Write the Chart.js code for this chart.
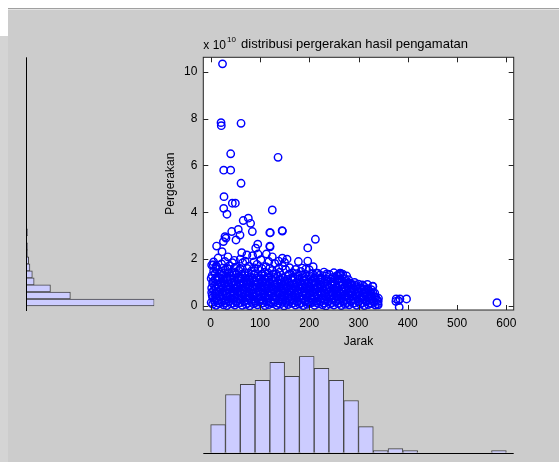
<!DOCTYPE html>
<html>
<head>
<meta charset="utf-8">
<script src="https://cdn.jsdelivr.net/npm/chart.js@4.4.1/dist/chart.umd.min.js"></script>
<style>
    html, body { margin: 0; padding: 0; }
    body { width: 559px; height: 462px; overflow: hidden; background: #ffffff; position: relative; }
    .panel { position: absolute; left: 8px; top: 8px; width: 551px; height: 454px; background: #cccccc; border-top: 1px solid #a0a0a0; box-sizing: border-box; }
    .panel:before { content: ''; position: absolute; left: 0; top: 0; right: 0; height: 1px; background: #e4e4e4; }
    .left-strip { position: absolute; left: 0; top: 36px; width: 8px; height: 426px; background: #d4d4d4; }
    canvas { position: absolute; left: 0; top: 0; }
</style>
</head>
<body>
<div class="panel"></div>
<div class="left-strip"></div>
<canvas id="histY" width="559" height="462"></canvas>
<canvas id="histX" width="559" height="462"></canvas>
<canvas id="scatter" width="559" height="462"></canvas>
<script>
// tick labels
const xTicks = [0, 100, 200, 300, 400, 500, 600];
const yTicks = [0, 2, 4, 6, 8, 10];

// histogram Jarak (bins of 30)
const jarakBins = [15, 45, 75, 105, 135, 165, 195, 225, 255, 285, 315, 345, 375, 405, 435, 465, 495, 525, 555, 585];
const jarakCounts = [14, 29, 34, 36, 45, 38, 48, 42, 36, 26, 13, 1, 2, 1, 0, 0, 0, 0, 0, 1];

// histogram Pergerakan (bins of 0.3, x 10^10)
const gerakBins = [0.15, 0.45, 0.75, 1.05, 1.35, 1.65, 1.95, 2.25, 2.55, 2.85, 3.15];
const gerakCounts = [212, 73, 40, 13, 10, 6, 4, 2, 2, 0, 2];

// [jarak, pergerakan (x 10^10)]
const outlier = [
    [24, 10.34], [21, 7.83], [21.5, 7.7], [61.6, 7.8], [40.6, 6.5], [26.4, 5.8], [40.6, 5.8], [61.6, 5.24],
    [27, 4.67], [26.4, 4.17], [33, 3.92], [43.9, 4.39], [50, 4.39], [136.7, 6.35], [125, 4.1], [145, 3.22],
    [121, 3.13], [66, 3.65], [76.4, 3.75], [81, 3.53], [84.5, 3.18], [42.7, 3.18], [56, 3.27], [59.5, 3.03],
    [51.4, 2.82], [31, 2.9], [25.8, 2.75], [12, 2.56], [23, 2.32], [95.5, 2.64], [91.4, 2.47], [120.5, 2.53],
    [197, 2.48], [212.5, 2.85], [197, 1.92], [145.5, 2.04], [155, 2.0], [113, 2.22], [96, 2.22], [63, 2.28],
    [73.5, 2.18], [5.3, 1.75], [11, 1.7], [29, 2.96], [120, 3.13], [145.5, 3.2], [120, 2.56], [217, 1.4],
    [235.7, 1.37], [262.7, 1.4], [262.7, 1.3], [281.6, 0.97], [329, 0.85], [340.5, 0.33], [340, 0.2],
    [261, 1.37], [283, 0.97], [340, 0.05], [376.5, 0.3], [381, 0.23], [384, 0.3], [397.5, 0.3],
    [382.6, -0.05], [375.8, 0.2], [581, 0.14]
];
const blob = [
    [4, 0.08], [11, 0.03], [18, 0.1], [26, 0.05], [33, 0.02], [41, 0.09], [49, 0.04], [56, 0.11], [64, 0.03], [72, 0.07],
    [79, 0.01], [87, 0.09], [95, 0.05], [103, 0.12], [110, 0.02], [118, 0.06], [126, 0.1], [134, 0.03], [141, 0.08], [149, 0.01],
    [157, 0.06], [165, 0.11], [172, 0.04], [180, 0.08], [188, 0.02], [196, 0.07], [203, 0.12], [211, 0.03], [219, 0.09], [227, 0.05],
    [234, 0.01], [242, 0.08], [250, 0.04], [258, 0.1], [265, 0.02], [273, 0.07], [281, 0.05], [289, 0.11], [296, 0.03], [304, 0.08],
    [312, 0.02], [320, 0.06], [327, 0.1], [334, 0.04],
    [1, 0.15], [8, 0.18], [15, 0.13], [22, 0.17], [30, 0.14], [37, 0.19], [45, 0.12], [52, 0.16], [60, 0.14], [68, 0.18],
    [75, 0.12], [83, 0.16], [91, 0.15], [99, 0.19], [106, 0.13], [114, 0.17], [122, 0.14], [130, 0.18], [137, 0.12], [145, 0.16],
    [153, 0.15], [161, 0.19], [168, 0.13], [176, 0.17], [184, 0.14], [192, 0.18], [199, 0.12], [207, 0.16], [215, 0.15], [223, 0.19],
    [230, 0.13], [238, 0.17], [246, 0.14], [254, 0.18], [261, 0.12], [269, 0.16], [277, 0.15], [285, 0.19], [292, 0.13], [300, 0.17],
    [308, 0.14], [316, 0.18], [323, 0.12], [331, 0.16], [339, 0.1],
    [7, 0.27], [14, 0.22], [22, 0.3], [29, 0.24], [37, 0.19], [45, 0.28], [52, 0.23], [60, 0.31], [68, 0.2], [75, 0.26],
    [83, 0.29], [91, 0.21], [99, 0.27], [106, 0.24], [114, 0.32], [122, 0.19], [130, 0.26], [137, 0.23], [145, 0.3], [153, 0.2],
    [161, 0.28], [168, 0.25], [176, 0.21], [184, 0.3], [192, 0.24], [199, 0.19], [207, 0.27], [215, 0.22], [223, 0.31], [230, 0.25],
    [238, 0.2], [246, 0.28], [254, 0.23], [261, 0.3], [269, 0.21], [277, 0.26], [285, 0.24], [292, 0.29], [300, 0.2], [308, 0.27],
    [316, 0.23], [323, 0.3], [331, 0.22], [338, 0.26],
    [4, 0.36], [11, 0.33], [18, 0.38], [26, 0.35], [33, 0.39], [41, 0.34], [49, 0.37], [56, 0.32], [64, 0.38], [72, 0.36],
    [79, 0.33], [87, 0.39], [95, 0.35], [102, 0.31], [110, 0.37], [118, 0.34], [126, 0.39], [133, 0.36], [141, 0.32], [149, 0.38],
    [157, 0.35], [164, 0.33], [172, 0.39], [180, 0.36], [188, 0.31], [195, 0.37], [203, 0.34], [211, 0.38], [219, 0.35], [226, 0.32],
    [234, 0.39], [242, 0.36], [250, 0.33], [257, 0.37], [265, 0.34], [273, 0.38], [281, 0.35], [288, 0.32], [296, 0.37], [304, 0.34],
    [312, 0.38], [319, 0.35], [327, 0.33], [335, 0.37],
    [3, 0.45], [10, 0.5], [18, 0.42], [25, 0.48], [33, 0.53], [40, 0.44], [48, 0.49], [56, 0.41], [63, 0.52], [71, 0.46],
    [79, 0.43], [86, 0.51], [94, 0.47], [102, 0.4], [109, 0.5], [117, 0.45], [125, 0.53], [132, 0.42], [140, 0.48], [148, 0.44],
    [156, 0.51], [163, 0.4], [171, 0.47], [179, 0.52], [187, 0.43], [194, 0.49], [202, 0.45], [210, 0.41], [217, 0.5], [225, 0.46],
    [233, 0.53], [241, 0.42], [248, 0.48], [256, 0.44], [264, 0.5], [271, 0.41], [279, 0.47], [287, 0.43], [295, 0.5], [302, 0.45],
    [310, 0.41], [318, 0.48], [326, 0.44], [333, 0.4],
    [2, 0.58], [9, 0.55], [17, 0.6], [24, 0.57], [32, 0.54], [40, 0.59], [47, 0.56], [55, 0.61], [63, 0.55], [70, 0.58],
    [78, 0.6], [86, 0.54], [93, 0.57], [101, 0.6], [109, 0.55], [117, 0.58], [124, 0.56], [132, 0.61], [140, 0.54], [147, 0.58],
    [155, 0.56], [163, 0.6], [171, 0.55], [178, 0.57], [186, 0.59], [194, 0.54], [202, 0.58], [209, 0.56], [217, 0.6], [225, 0.55],
    [232, 0.57], [240, 0.59], [248, 0.54], [256, 0.58], [263, 0.56], [271, 0.6], [279, 0.55], [287, 0.57], [294, 0.53], [302, 0.58],
    [310, 0.55], [318, 0.57], [325, 0.53], [333, 0.55],
    [6, 0.66], [13, 0.6], [21, 0.7], [28, 0.63], [36, 0.68], [44, 0.61], [51, 0.72], [59, 0.64], [67, 0.69], [74, 0.62],
    [82, 0.67], [90, 0.73], [97, 0.6], [105, 0.66], [113, 0.7], [121, 0.63], [128, 0.68], [136, 0.61], [144, 0.71], [151, 0.65],
    [159, 0.6], [167, 0.69], [175, 0.64], [182, 0.72], [190, 0.61], [198, 0.67], [206, 0.63], [213, 0.7], [221, 0.6], [229, 0.66],
    [236, 0.71], [244, 0.62], [252, 0.68], [260, 0.64], [268, 0.6], [275, 0.69], [283, 0.63], [291, 0.67], [299, 0.61], [306, 0.66],
    [314, 0.6], [322, 0.64], [329, 0.58],
    [2, 0.77], [10, 0.74], [17, 0.79], [25, 0.76], [33, 0.73], [40, 0.78], [48, 0.75], [56, 0.8], [63, 0.74], [71, 0.77],
    [79, 0.79], [86, 0.73], [94, 0.76], [102, 0.8], [110, 0.75], [117, 0.77], [125, 0.74], [133, 0.79], [141, 0.76], [148, 0.73],
    [156, 0.78], [164, 0.75], [172, 0.8], [179, 0.74], [187, 0.77], [195, 0.75], [203, 0.79], [210, 0.73], [218, 0.76], [226, 0.78],
    [234, 0.74], [241, 0.77], [249, 0.75], [257, 0.79], [265, 0.73], [272, 0.76], [280, 0.74], [288, 0.77], [296, 0.73], [303, 0.75],
    [311, 0.72], [319, 0.74], [326, 0.7],
    [8, 0.87], [16, 0.82], [23, 0.9], [31, 0.84], [39, 0.8], [46, 0.89], [54, 0.85], [62, 0.92], [69, 0.81], [77, 0.88],
    [85, 0.84], [92, 0.9], [100, 0.83], [108, 0.79], [116, 0.88], [123, 0.85], [131, 0.91], [139, 0.8], [147, 0.87], [154, 0.83],
    [162, 0.89], [170, 0.81], [178, 0.86], [185, 0.92], [193, 0.8], [201, 0.85], [209, 0.88], [216, 0.82], [224, 0.9], [232, 0.84],
    [240, 0.79], [247, 0.87], [255, 0.83], [263, 0.89], [271, 0.8], [279, 0.85], [287, 0.91], [295, 0.82], [303, 0.78], [311, 0.84],
    [329, 0.83],
    [4, 0.97], [12, 0.93], [19, 0.98], [27, 0.95], [35, 0.92], [42, 0.97], [50, 0.94], [58, 0.99], [66, 0.93], [73, 0.96],
    [81, 0.98], [89, 0.92], [96, 0.95], [104, 0.99], [112, 0.94], [120, 0.96], [128, 0.93], [135, 0.98], [143, 0.95], [151, 0.92],
    [159, 0.97], [166, 0.94], [174, 0.99], [182, 0.93], [190, 0.96], [198, 0.94], [205, 0.97], [213, 0.92], [221, 0.95], [229, 0.97],
    [237, 0.93], [244, 0.96], [252, 0.94], [260, 0.97], [268, 0.92], [276, 0.95], [284, 0.93], [292, 0.9], [300, 0.93], [308, 0.9],
    [318, 0.92],
    [5, 1.05], [12, 1.1], [20, 1.0], [27, 1.08], [35, 1.12], [43, 1.02], [50, 1.07], [58, 1.14], [66, 1.01], [73, 1.09],
    [81, 1.04], [89, 1.11], [96, 1.0], [104, 1.06], [112, 1.13], [120, 1.03], [127, 1.08], [135, 1.0], [143, 1.1], [151, 1.05],
    [158, 1.02], [166, 1.09], [174, 1.0], [182, 1.04], [190, 1.1], [198, 1.01], [206, 1.07], [214, 1.03], [222, 1.12], [230, 1.0],
    [238, 1.06], [247, 1.02], [256, 1.08], [265, 1.0], [274, 1.05], [283, 0.98], [292, 1.01],
    [1, 1.18], [9, 1.15], [17, 1.2], [24, 1.16], [32, 1.19], [39, 1.14], [47, 1.18], [55, 1.21], [62, 1.16], [70, 1.19],
    [78, 1.14], [85, 1.18], [93, 1.2], [101, 1.15], [109, 1.17], [116, 1.21], [124, 1.15], [132, 1.18], [140, 1.16], [147, 1.2],
    [155, 1.14], [163, 1.17], [171, 1.19], [179, 1.15], [186, 1.18], [194, 1.14], [202, 1.17], [210, 1.19], [218, 1.15], [226, 1.17],
    [236, 1.14], [244, 1.16], [253, 1.18], [262, 1.15], [272, 1.17], [280, 1.12],
    [3, 1.3], [14, 1.24], [24, 1.32], [33, 1.22], [41, 1.28], [52, 1.35], [61, 1.2], [70, 1.3], [80, 1.25], [88, 1.33],
    [98, 1.21], [109, 1.29], [118, 1.23], [128, 1.35], [137, 1.26], [147, 1.2], [157, 1.31], [167, 1.24], [178, 1.28], [190, 1.22],
    [200, 1.3], [212, 1.25], [223, 1.2], [234, 1.28], [248, 1.22], [258, 1.3], [268, 1.36],
    [9, 1.38], [20, 1.36], [28, 1.42], [37, 1.39], [48, 1.4], [63, 1.36], [76, 1.4], [90, 1.38], [104, 1.36], [117, 1.4],
    [133, 1.37], [159, 1.36], [174, 1.38], [192, 1.36], [207, 1.38], [222, 1.33], [241, 1.35], [256, 1.3], [276, 1.28],
    [6, 1.5], [18, 1.44], [30, 1.55], [44, 1.47], [57, 1.52], [69, 1.42], [83, 1.5], [96, 1.58], [110, 1.45], [125, 1.52],
    [140, 1.44], [152, 1.56], [166, 1.42], [183, 1.48], [200, 1.55], [215, 1.4], [230, 1.45], [250, 1.42], [264, 1.38],
    [10, 1.6], [25, 1.62], [35, 1.58], [48, 1.63], [60, 1.6], [74, 1.6], [88, 1.63], [104, 1.6], [120, 1.62], [138, 1.6],
    [172, 1.56], [193, 1.58],
    [2, 1.75], [12, 1.68], [22, 1.8], [38, 1.72], [52, 1.66], [65, 1.85], [78, 1.7], [94, 1.78], [112, 1.68], [130, 1.82],
    [146, 1.7], [160, 1.64], [186, 1.62], [208, 1.68],
    [6, 1.88], [29, 1.9], [44, 1.85], [70, 1.92], [88, 1.88], [118, 1.9], [150, 1.86],
    [15, 2.05], [35, 2.1], [48, 1.95], [60, 2.0], [85, 2.15], [102, 1.98], [138, 1.92], [125, 2.1], [178, 1.9]
];

Chart.defaults.font.family = "'Liberation Sans', Arial, sans-serif";
Chart.defaults.font.size = 12;
Chart.defaults.color = '#000000';

const barFill = '#ccccff';
const barEdge = '#444444';

// main scatter: white box, inside ticks, title
const boxPlugin = {
    id: 'box',
    beforeDraw(chart) {
        const a = chart.chartArea;
        chart.ctx.save();
        chart.ctx.fillStyle = '#ffffff';
        chart.ctx.fillRect(a.left, a.top, a.right - a.left, a.bottom - a.top);
        chart.ctx.restore();
    },
    afterDraw(chart) {
        const ctx = chart.ctx;
        const a = chart.chartArea;
        const xs = chart.scales.x;
        const ys = chart.scales.y;
        ctx.save();
        ctx.strokeStyle = '#262626';
        ctx.lineWidth = 1;
        ctx.strokeRect(a.left, a.top, a.right - a.left, a.bottom - a.top);
        ctx.beginPath();
        xTicks.forEach(v => {
            const px = Math.round(xs.getPixelForValue(v)) + 0.5;
            ctx.moveTo(px, a.bottom); ctx.lineTo(px, a.bottom - 5);
            ctx.moveTo(px, a.top); ctx.lineTo(px, a.top + 5);
        });
        yTicks.forEach(v => {
            const py = Math.round(ys.getPixelForValue(v)) + 0.5;
            ctx.moveTo(a.left, py); ctx.lineTo(a.left + 5, py);
            ctx.moveTo(a.right, py); ctx.lineTo(a.right - 5, py);
        });
        ctx.stroke();

        ctx.fillStyle = '#000000';
        ctx.textBaseline = 'alphabetic';
        ctx.textAlign = 'center';
        ctx.font = "13px 'Liberation Sans', Arial, sans-serif";
        ctx.fillText('distribusi pergerakan hasil pengamatan', (a.left + a.right) / 2 - 4, 48);
        ctx.textAlign = 'left';
        ctx.font = "12px 'Liberation Sans', Arial, sans-serif";
        ctx.fillText('x 10', a.left, 49);
        const w = ctx.measureText('x 10').width;
        ctx.font = "8px 'Liberation Sans', Arial, sans-serif";
        ctx.fillText('10', a.left + w + 1, 42);
        ctx.restore();
    }
};

new Chart(document.getElementById('scatter'), {
    type: 'scatter',
    data: {
        datasets: [{
            data: outlier.concat(blob).map(p => ({ x: p[0], y: p[1] })),
            pointRadius: 3.7,
            pointHoverRadius: 3.7,
            borderWidth: 1.45,
            borderColor: '#0000ff',
            backgroundColor: 'rgba(0,0,0,0)'
        }]
    },
    options: {
        responsive: false,
        animation: false,
        events: [],
        layout: { padding: { left: 159.8, right: 45.3, top: 57.3, bottom: 109.1 } },
        plugins: { legend: { display: false }, tooltip: { enabled: false } },
        scales: {
            x: {
                type: 'linear', min: -15, max: 615,
                afterBuildTicks: s => { s.ticks = xTicks.map(v => ({ value: v })); },
                ticks: { padding: 6, maxRotation: 0, includeBounds: false },
                grid: { display: false, drawTicks: false },
                border: { display: false },
                title: { display: true, text: 'Jarak', padding: { top: 2, bottom: 4 } },
                afterFit: s => { s.height = 42.9; }
            },
            y: {
                type: 'linear', min: -0.17, max: 10.62,
                afterBuildTicks: s => { s.ticks = yTicks.map(v => ({ value: v })); },
                ticks: { padding: 6, includeBounds: false },
                grid: { display: false, drawTicks: false },
                border: { display: false },
                title: { display: true, text: 'Pergerakan', padding: { top: 4, bottom: 2 } },
                afterFit: s => { s.width = 43.5; }
            }
        }
    },
    plugins: [boxPlugin]
});

// left histogram (horizontal bars)
const axisLineY = {
    id: 'axisLineY',
    afterDraw(chart) {
        const a = chart.chartArea;
        const ctx = chart.ctx;
        ctx.save();
        ctx.strokeStyle = '#000000';
        ctx.beginPath();
        ctx.moveTo(Math.round(a.left) + 0.5, a.top);
        ctx.lineTo(Math.round(a.left) + 0.5, a.bottom + 1);
        ctx.stroke();
        ctx.restore();
    }
};

new Chart(document.getElementById('histY'), {
    type: 'bar',
    data: {
        datasets: [{
            data: gerakBins.map((b, i) => ({ x: gerakCounts[i], y: b })),
            backgroundColor: barFill,
            borderColor: barEdge,
            borderWidth: 1,
            borderSkipped: 'start',
            categoryPercentage: 1,
            barPercentage: 1
        }]
    },
    options: {
        indexAxis: 'y',
        responsive: false,
        animation: false,
        events: [],
        layout: { padding: { left: 26.3, right: 404.7, top: 57.3, bottom: 152 } },
        plugins: { legend: { display: false }, tooltip: { enabled: false } },
        scales: {
            y: { type: 'linear', min: -0.17, max: 10.62, offset: false, display: false },
            x: { type: 'linear', min: 0, max: 212, display: false }
        }
    },
    plugins: [axisLineY]
});

// bottom histogram
const axisLineX = {
    id: 'axisLineX',
    afterDraw(chart) {
        const a = chart.chartArea;
        const ctx = chart.ctx;
        ctx.save();
        ctx.strokeStyle = '#000000';
        ctx.beginPath();
        ctx.moveTo(a.left, Math.round(a.bottom) + 0.5);
        ctx.lineTo(a.right, Math.round(a.bottom) + 0.5);
        ctx.stroke();
        ctx.restore();
    }
};

new Chart(document.getElementById('histX'), {
    type: 'bar',
    data: {
        datasets: [{
            data: jarakBins.map((b, i) => ({ x: b, y: jarakCounts[i] })),
            backgroundColor: barFill,
            borderColor: barEdge,
            borderWidth: 1,
            borderSkipped: 'start',
            categoryPercentage: 1,
            barPercentage: 1
        }]
    },
    options: {
        responsive: false,
        animation: false,
        events: [],
        layout: { padding: { left: 203.3, right: 45.3, top: 356.3, bottom: 9.3 } },
        plugins: { legend: { display: false }, tooltip: { enabled: false } },
        scales: {
            x: { type: 'linear', min: -15, max: 615, offset: false, display: false },
            y: { type: 'linear', min: 0, max: 48, display: false }
        }
    },
    plugins: [axisLineX]
});
</script>
</body>
</html>
